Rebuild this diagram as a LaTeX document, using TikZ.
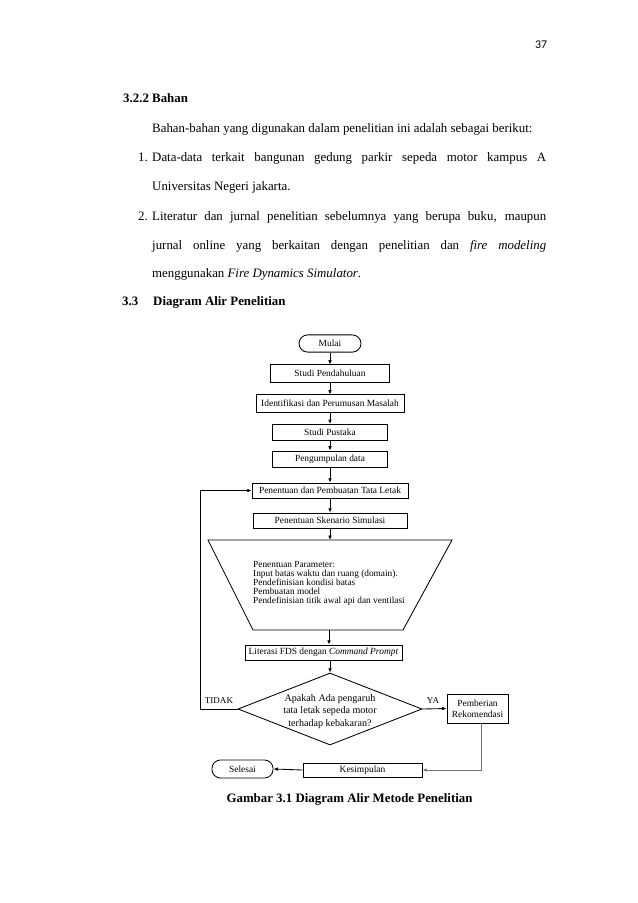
\documentclass[tikz,border=0pt]{standalone}
\usepackage{fontspec}
\setmainfont{Liberation Serif}
\newfontfamily\pagefont{Carlito}
\usetikzlibrary{shapes.geometric, arrows.meta}

\begin{document}
\begin{tikzpicture}[x=0.9325pt, y=-0.9325pt, >={Latex[length=4pt,width=3.4pt]},
  body/.style={anchor=base west, inner sep=0pt, font=\fontsize{12}{14}\selectfont},
  bodyb/.style={body, font=\fontsize{12}{14}\selectfont\bfseries},
  flow/.style={draw, line width=0.8pt, inner sep=1pt, align=center, font=\fontsize{8.8}{10.3}\selectfont},
  proc/.style={flow, minimum height=15pt},
  term/.style={flow, rounded corners=8pt, minimum height=16pt},
  conn/.style={line width=0.8pt},
  lbl/.style={inner sep=0pt, font=\fontsize{8.4}{10}\selectfont}]
  \useasboundingbox[fill=white] (0,0) rectangle (638,903);
  % page number
  \node[font=\pagefont\fontsize{11}{13}\selectfont] (page) at (541,45) {37};
  % text above the chart
  \node[bodyb] (sub) at (123,102) {3.2.2 Bahan};
  \node[body] (intro) at (152,132) {Bahan-bahan yang digunakan dalam penelitian ini adalah sebagai berikut:};
  \node[body] (num1) at (138,161) {1.};
  \node[body] (item1a) at (152,161) {\makebox[367.4pt][s]{Data-data terkait bangunan gedung parkir sepeda motor kampus A}};
  \node[body] (item1b) at (152,190) {Universitas Negeri jakarta.};
  \node[body] (num2) at (138,220) {2.};
  \node[body] (item2a) at (152,220) {\makebox[367.4pt][s]{Literatur dan jurnal penelitian sebelumnya yang berupa buku, maupun}};
  \node[body] (item2b) at (152,249) {\makebox[367.4pt][s]{jurnal online yang berkaitan dengan penelitian dan \textit{fire modeling}}};
  \node[body] (item2c) at (152,277) {menggunakan \textit{Fire Dynamics Simulator}.};
  \node[bodyb] (secnum) at (122,305) {3.3};
  \node[bodyb] (sec) at (153,305) {Diagram Alir Penelitian};
  % flow chart, top part
  \node[term, minimum width=57.8pt] (mulai) at (330,343.5) {Mulai};
  \node[proc, minimum width=111pt, minimum height=16pt] (pendahuluan) at (330,373.5) {Studi Pendahuluan};
  \node[proc, minimum width=138pt, minimum height=16pt] (identifikasi) at (330,403.5) {Identifikasi dan Perumusan Masalah};
  \node[proc, minimum width=107pt] (pustaka) at (330,432.5) {Studi Pustaka};
  \node[proc, minimum width=106.5pt] (pengumpulan) at (330,459) {Pengumpulan data};
  \node[proc, minimum width=145.5pt, minimum height=14pt] (tataletak) at (330,490.5) {Penentuan dan Pembuatan Tata Letak};
  \node[proc, minimum width=143.6pt, minimum height=14pt] (skenario) at (330,520.5) {Penentuan Skenario Simulasi};
  % parameter trapezium
  \coordinate (paramtop) at (330,540);
  \coordinate (parambot) at (329,630);
  \draw[conn] (208,540) -- (452,540) -- (403,630) -- (253,630) -- cycle;
  \node[anchor=north west, inner sep=0pt, align=left, font=\fontsize{8.7}{8.5}\selectfont] (param) at (253,561)
    {Penentuan Parameter:\\ Input batas waktu dan ruang (domain).\\ Pendefinisian kondisi batas\\ Pembuatan model\\ Pendefinisian titik awal api dan ventilasi};
  % bottom part
  \node[proc, minimum width=146.4pt, minimum height=14pt] (literasi) at (323.5,652.5) {Literasi FDS dengan \textit{Command Prompt}};
  \node[draw, diamond, line width=0.8pt, minimum width=171.6pt, minimum height=67.1pt, inner sep=0pt] (keputusan) at (330,709) {};
  \node[align=center, inner sep=0pt, font=\fontsize{9.4}{11.7}\selectfont] (tanya) at (330,711.5) {Apakah Ada pengaruh\\ tata letak sepeda motor\\ terhadap kebakaran?};
  \node[proc, minimum width=57pt, minimum height=27pt] (rekomendasi) at (477.5,708.5) {Pemberian\\ Rekomendasi};
  \node[proc, minimum width=111pt, minimum height=13pt] (kesimpulan) at (362.5,770) {Kesimpulan};
  \node[term, minimum width=57pt, minimum height=16.8pt] (selesai) at (242.5,769) {Selesai};
  \node[lbl] (tidak) at (219,701) {TIDAK};
  \node[lbl] (ya) at (433,701) {YA};
  % connectors
  \foreach \a/\b in {mulai/pendahuluan, pendahuluan/identifikasi, identifikasi/pustaka,
                     pustaka/pengumpulan, pengumpulan/tataletak, tataletak/skenario, skenario/paramtop}
    \draw[conn,->] (\a) -- (\b);
  \draw[conn,->] (parambot) -- (parambot |- literasi.north);
  \draw[conn,->] (keputusan.north |- literasi.south) -- (keputusan.north);
  \draw[conn,->] (keputusan.east) -- (rekomendasi.west);
  \draw[conn,->] (keputusan.west) -- ++(-37,0) |- (tataletak.west);
  \draw[conn,->, black!55] ([xshift=3.3pt]rekomendasi.south) |- (kesimpulan.east);
  \draw[conn,->] (kesimpulan.west) -- (selesai.east);
  % caption
  \node[bodyb, anchor=base] (caption) at (349.5,802) {Gambar 3.1 Diagram Alir Metode Penelitian};
\end{tikzpicture}
\end{document}
